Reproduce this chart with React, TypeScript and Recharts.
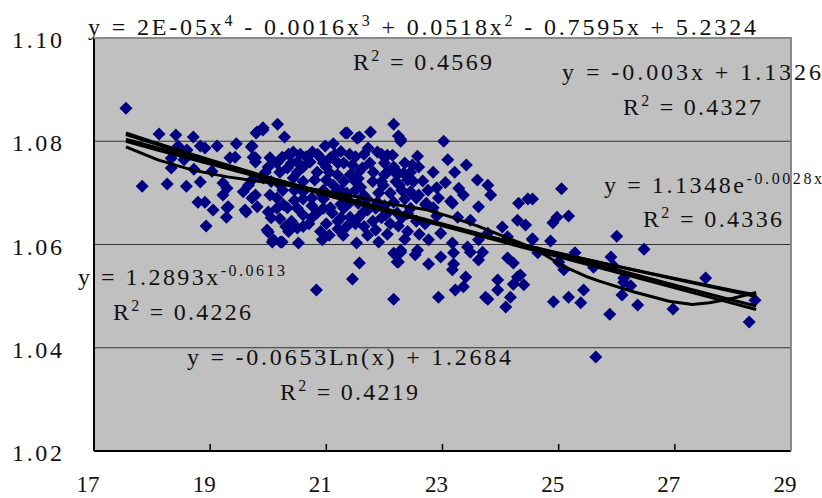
import React from "react";
import {
  ScatterChart,
  Scatter,
  XAxis,
  YAxis,
  CartesianGrid,
} from "recharts";

const xTicks = [17, 19, 21, 23, 25, 27, 29];
const yTicks = [1.02, 1.04, 1.06, 1.08, 1.1];

// measured points (x, y)
const samples: [number, number][] = [
  [17.55, 1.0864], [17.83, 1.0713], [18.12, 1.0814], [18.26, 1.0717], [18.33, 1.0767],
  [18.33, 1.0748], [18.41, 1.0812], [18.45, 1.0791], [18.55, 1.0764], [18.59, 1.0713],
  [18.6, 1.0783], [18.71, 1.0808], [18.72, 1.0746], [18.79, 1.0682], [18.83, 1.0791],
  [18.83, 1.0721], [18.91, 1.0787], [18.91, 1.0682], [18.93, 1.0636], [19.03, 1.0742],
  [19.05, 1.0667], [19.12, 1.0791], [19.22, 1.0719], [19.22, 1.0696], [19.28, 1.0653],
  [19.29, 1.0709], [19.29, 1.0671], [19.31, 1.0673], [19.34, 1.0768], [19.43, 1.0769],
  [19.45, 1.0795], [19.57, 1.0702], [19.6, 1.0667], [19.62, 1.0663], [19.66, 1.0715],
  [19.71, 1.0789], [19.72, 1.0791], [19.72, 1.069], [19.74, 1.0769], [19.78, 1.076],
  [19.78, 1.0696], [19.79, 1.0816], [19.81, 1.0818], [19.81, 1.0673], [19.91, 1.0822],
  [19.98, 1.0628], [20.0, 1.0663], [20.0, 1.0624], [20.03, 1.0768], [20.09, 1.0609],
  [20.16, 1.0833], [20.24, 1.0605], [20.28, 1.0808], [19.91, 1.0826], [20.43, 1.0779],
  [20.76, 1.0779], [20.98, 1.0791], [21.12, 1.0795], [21.72, 1.0787], [22.05, 1.0773],
  [21.88, 1.0779], [19.78, 1.0768], [20.24, 1.0769], [20.5, 1.076], [20.72, 1.076],
  [20.9, 1.0768], [21.07, 1.0768], [21.45, 1.0754], [21.62, 1.0748], [21.81, 1.074],
  [22.16, 1.075], [22.22, 1.0735], [20.0, 1.075], [20.33, 1.0748], [20.6, 1.075],
  [20.84, 1.074], [21.19, 1.0735], [21.41, 1.0735], [19.72, 1.0725], [19.91, 1.0729],
  [20.43, 1.0729], [20.21, 1.0715], [21.12, 1.0715], [21.59, 1.0711], [21.98, 1.0715],
  [20.03, 1.0696], [20.6, 1.0702], [20.93, 1.0696], [21.41, 1.0682], [21.88, 1.0682],
  [22.16, 1.0682], [20.26, 1.0677], [21.07, 1.0671], [21.71, 1.0667], [20.33, 1.0671],
  [20.6, 1.0657], [20.84, 1.0661], [21.1, 1.0661], [21.41, 1.0653], [21.64, 1.0663],
  [22.02, 1.0657], [22.22, 1.0661], [20.21, 1.0605], [20.52, 1.0603], [20.5, 1.0632],
  [20.93, 1.0609], [21.29, 1.0618], [21.52, 1.0603], [21.71, 1.0618], [21.9, 1.0605],
  [22.16, 1.0583], [22.22, 1.0566], [21.57, 1.0564], [21.45, 1.0533], [20.83, 1.0512],
  [22.16, 1.0494], [22.24, 1.0566], [22.28, 1.0585], [22.53, 1.058], [20.07, 1.0605],
  [21.36, 1.0816], [21.57, 1.0808], [21.76, 1.0818], [22.16, 1.0833], [22.28, 1.0804],
  [21.53, 1.0806], [21.33, 1.0816], [22.24, 1.081], [22.28, 1.08], [23.02, 1.08],
  [22.14, 1.0773], [22.57, 1.0771], [22.48, 1.0754], [22.59, 1.075], [22.84, 1.074],
  [23.09, 1.0764], [23.41, 1.0754], [23.21, 1.074], [22.19, 1.0744], [22.33, 1.0738],
  [22.66, 1.0723], [22.26, 1.0715], [22.45, 1.0702], [22.59, 1.0696], [23.28, 1.0709],
  [23.6, 1.0725], [23.78, 1.0715], [23.83, 1.0696], [23.36, 1.0696], [22.93, 1.069],
  [23.14, 1.0684], [22.72, 1.068], [23.62, 1.0673], [24.31, 1.068], [24.47, 1.0688],
  [22.84, 1.0671], [22.71, 1.0677], [23.17, 1.068], [23.26, 1.0653], [23.48, 1.0647],
  [22.24, 1.0636], [22.97, 1.0622], [22.76, 1.0609], [23.17, 1.0603], [23.43, 1.0595],
  [23.62, 1.0609], [23.78, 1.0622], [24.03, 1.0634], [24.29, 1.0647], [24.43, 1.0638],
  [24.55, 1.0609], [24.12, 1.0615], [22.28, 1.0589], [22.57, 1.0589], [22.97, 1.0576],
  [23.19, 1.0584], [22.76, 1.0562], [23.48, 1.0585], [23.69, 1.0585], [23.62, 1.057],
  [24.12, 1.0574], [24.22, 1.0564], [24.64, 1.0584], [23.17, 1.0551], [23.4, 1.0537],
  [23.95, 1.0531], [24.29, 1.0537], [24.4, 1.0522], [23.22, 1.0512], [23.36, 1.0518],
  [23.95, 1.0512], [23.78, 1.0494], [22.93, 1.0498], [24.09, 1.0479], [24.17, 1.0498],
  [24.34, 1.0541], [24.22, 1.0523], [23.74, 1.0498], [23.19, 1.0562],
  [25.05, 1.0708], [24.55, 1.0688], [25.17, 1.0655], [24.97, 1.0653], [24.9, 1.0642],
  [24.55, 1.0611], [24.86, 1.0607], [26.0, 1.0616], [26.47, 1.0591], [25.28, 1.0584],
  [25.9, 1.0576], [25.0, 1.0566], [25.09, 1.0551], [25.6, 1.0556], [25.95, 1.0558],
  [26.12, 1.0535], [26.12, 1.0527], [26.24, 1.052], [25.43, 1.0512], [25.17, 1.0498],
  [25.38, 1.0487], [24.91, 1.0489], [26.09, 1.0502], [25.88, 1.0465], [26.36, 1.0483],
  [26.97, 1.0475], [27.53, 1.0535], [28.38, 1.0492], [28.28, 1.045], [25.64, 1.0382],
  [20.35, 1.0775], [20.65, 1.077], [21.25, 1.078], [21.5, 1.077], [21.3, 1.0758],
  [21.0, 1.075], [20.8, 1.0725], [21.0, 1.0725], [21.3, 1.0722], [21.55, 1.0728],
  [21.8, 1.0722], [22.0, 1.0735], [20.45, 1.0705], [20.75, 1.069], [21.15, 1.07],
  [21.35, 1.07], [21.65, 1.0695], [21.9, 1.07], [22.1, 1.07], [20.15, 1.069],
  [20.45, 1.0685], [20.75, 1.0675], [21.25, 1.0678], [21.55, 1.068], [22.0, 1.0675],
  [20.2, 1.065], [20.4, 1.0645], [20.7, 1.064], [21.0, 1.064], [21.2, 1.0645],
  [21.5, 1.064], [21.8, 1.0645], [22.1, 1.064], [20.9, 1.0625], [21.2, 1.063],
  [21.85, 1.0628], [22.05, 1.062], [20.35, 1.0625], [21.05, 1.0618], [22.35, 1.061],
  [22.4, 1.066], [22.55, 1.0645], [22.7, 1.064], [22.4, 1.0625], [22.6, 1.062],
  [22.9, 1.0655], [22.55, 1.069], [22.9, 1.071], [23.05, 1.072], [22.4, 1.0725],
  [20.55, 1.0775], [20.85, 1.0775], [21.15, 1.0775], [21.4, 1.0775], [21.65, 1.0775],
  [21.95, 1.0775], [20.15, 1.0758], [20.4, 1.0758], [20.95, 1.0758], [21.2, 1.0758],
  [21.75, 1.0758], [22.0, 1.0758], [22.35, 1.0758], [19.95, 1.074], [20.2, 1.074],
  [20.5, 1.074], [21.05, 1.074], [21.55, 1.074], [22.05, 1.074], [22.45, 1.074],
  [20.05, 1.0722], [20.6, 1.0722], [21.5, 1.0722], [21.95, 1.0722], [22.2, 1.0722],
  [22.5, 1.0722], [20.25, 1.0705], [20.95, 1.0705], [21.25, 1.0705], [21.5, 1.0705],
  [22.3, 1.0705], [22.75, 1.0705], [20.6, 1.0688], [20.95, 1.0688], [21.7, 1.0688],
  [22.35, 1.0688], [20.15, 1.067], [20.5, 1.067], [20.95, 1.067], [21.3, 1.067],
  [21.85, 1.067], [22.45, 1.067], [20.05, 1.0652], [20.75, 1.0652], [21.25, 1.0652],
  [21.55, 1.0652], [21.95, 1.0652], [22.3, 1.0652], [20.3, 1.0635], [20.6, 1.0635],
  [21.35, 1.0635], [21.65, 1.0635],
];

// trendlines
const fitX = [17.55, 18, 19, 20, 21, 22, 23, 24, 25, 26, 27, 28, 28.4];
const linearY = [1.08, 1.0786, 1.0756, 1.0726, 1.0696, 1.0666, 1.0636, 1.0606, 1.0576, 1.0546, 1.0516, 1.0486, 1.0474];
const expY = [1.0804, 1.079, 1.076, 1.073, 1.07, 1.067, 1.064, 1.061, 1.058, 1.0551, 1.0521, 1.0492, 1.0481];
const logY = [1.0813, 1.0797, 1.0761, 1.0728, 1.0696, 1.0665, 1.0637, 1.0609, 1.0583, 1.0558, 1.0533, 1.0509, 1.0499];
const powerY = [1.0816, 1.0799, 1.0764, 1.073, 1.0698, 1.0667, 1.0638, 1.061, 1.0583, 1.0558, 1.0534, 1.0511, 1.0502];
const polyX = [17.55, 18.1, 18.7, 19.3, 19.8, 20.5, 21, 21.5, 22.1, 22.7, 23.1, 23.6, 24, 24.4, 24.7, 25.1, 25.5, 25.7, 26.3, 26.9, 27.3, 27.6, 28, 28.4];
const polyY = [1.0789, 1.0764, 1.0744, 1.0731, 1.0723, 1.0712, 1.0703, 1.0693, 1.0679, 1.0668, 1.0655, 1.0636, 1.0618, 1.06, 1.0584, 1.0557, 1.0537, 1.0529, 1.0508, 1.049, 1.0484, 1.0487, 1.0496, 1.0507];

// equation labels: [text, superscript?]
type Seg = [string, boolean?];
const eqPoly: Seg[] = [["y = 2E-05x"], ["4", true], [" - 0.0016x"], ["3", true], [" + 0.0518x"], ["2", true], [" - 0.7595x + 5.2324"]];
const r2Poly: Seg[] = [["R"], ["2", true], [" = 0.4569"]];
const eqLinear: Seg[] = [["y = -0.003x + 1.1326"]];
const r2Linear: Seg[] = [["R"], ["2", true], [" = 0.4327"]];
const eqExp: Seg[] = [["y = 1.1348e"], ["-0.0028x", true]];
const r2Exp: Seg[] = [["R"], ["2", true], [" = 0.4336"]];
const eqPower: Seg[] = [["y = 1.2893x"], ["-0.0613", true]];
const r2Power: Seg[] = [["R"], ["2", true], [" = 0.4226"]];
const eqLog: Seg[] = [["y = -0.0653Ln(x) + 1.2684"]];
const r2Log: Seg[] = [["R"], ["2", true], [" = 0.4219"]];

const FONT = "'Liberation Serif', 'Times New Roman', serif";
const TEXT = "#111";

const pointData = samples.map(([x, y]) => ({ x, y }));
const toLine = (xs: number[], ys: number[]) => xs.map((x, i) => ({ x, y: ys[i] }));
const fits = [
  toLine(fitX, linearY),
  toLine(fitX, expY),
  toLine(fitX, logY),
  toLine(fitX, powerY),
  toLine(polyX, polyY),
];

const Diamond = (props: any) => {
  const { cx, cy } = props;
  const r = 6.5;
  return (
    <polygon
      points={`${cx},${cy - r} ${cx + r},${cy} ${cx},${cy + r} ${cx - r},${cy}`}
      fill="#000080"
    />
  );
};

const YTick = ({ x, y, payload }: any) => (
  <text
    x={x}
    y={y}
    dy={10}
    textAnchor="end"
    fontFamily={FONT}
    fontSize={24}
    fill={TEXT}
    textLength={50}
    lengthAdjust="spacing"
  >
    {payload.value.toFixed(2)}
  </text>
);

const XTick = ({ x, y, payload }: any) => (
  <g>
    <line x1={x} x2={x} y1={y} y2={y - 7} stroke="#000" strokeWidth={1.5} />
    <text x={x - 6} y={y + 41} textAnchor="middle" fontFamily={FONT} fontSize={23} fill={TEXT}>
      {payload.value}
    </text>
  </g>
);

const Eq = ({ x, y, w, segs }: { x: number; y: number; w: number; segs: Seg[] }) => {
  let raised = false;
  return (
    <text
      x={x}
      y={y}
      fontFamily={FONT}
      fontSize={24}
      fill={TEXT}
      textLength={w}
      lengthAdjust="spacing"
      style={{ whiteSpace: "pre" }}
    >
      {segs.map(([t, sup], i) => {
        let dy = 0;
        if (sup && !raised) dy = -9;
        if (!sup && raised) dy = 9;
        raised = !!sup;
        return (
          <tspan key={i} dy={dy} fontSize={sup ? 16 : 24}>
            {t}
          </tspan>
        );
      })}
    </text>
  );
};

export default function App() {
  return (
    <div style={{ position: "absolute", left: 0, top: 0, width: 822, height: 498, background: "#fff" }}>
      <ScatterChart width={822} height={498} margin={{ top: 38, right: 31, bottom: 0, left: 0 }}>
        <CartesianGrid vertical={false} fill="#C0C0C0" stroke="#333" fillOpacity={1} />
        <XAxis
          type="number"
          dataKey="x"
          domain={[17, 29]}
          ticks={xTicks}
          height={47}
          tickSize={0}
          tickMargin={0}
          axisLine={{ stroke: "#000", strokeWidth: 2 }}
          tickLine={false}
          tick={<XTick />}
          allowDataOverflow
        />
        <YAxis
          type="number"
          dataKey="y"
          domain={[1.02, 1.1]}
          ticks={yTicks}
          width={94}
          tickSize={0}
          tickMargin={32}
          axisLine={{ stroke: "#000", strokeWidth: 2 }}
          tickLine={false}
          tick={<YTick />}
          allowDataOverflow
        />
        <Scatter data={pointData} shape={<Diamond />} isAnimationActive={false} />
        {fits.map((d, i) => (
          <Scatter
            key={i}
            data={d}
            line={{ stroke: "#000", strokeWidth: 3 }}
            lineJointType="linear"
            shape={() => <g />}
            isAnimationActive={false}
          />
        ))}
      </ScatterChart>
      <svg
        width={822}
        height={498}
        style={{ position: "absolute", left: 0, top: 0, pointerEvents: "none" }}
      >
        <Eq x={88} y={35} w={668} segs={eqPoly} />
        <Eq x={353} y={70} w={139} segs={r2Poly} />
        <Eq x={562} y={80} w={259} segs={eqLinear} />
        <Eq x={623} y={115} w={138} segs={r2Linear} />
        <Eq x={604} y={193} w={218} segs={eqExp} />
        <Eq x={643} y={227} w={139} segs={r2Exp} />
        <Eq x={78} y={285} w={207} segs={eqPower} />
        <Eq x={113} y={320} w={138} segs={r2Power} />
        <Eq x={187} y={365} w={324} segs={eqLog} />
        <Eq x={280} y={400} w={138} segs={r2Log} />
        <line x1={94} x2={791} y1={38} y2={38} stroke="#8a8a8a" strokeWidth={2} />
        <line x1={791} x2={791} y1={37} y2={451} stroke="#8a8a8a" strokeWidth={2} />
      </svg>
    </div>
  );
}
